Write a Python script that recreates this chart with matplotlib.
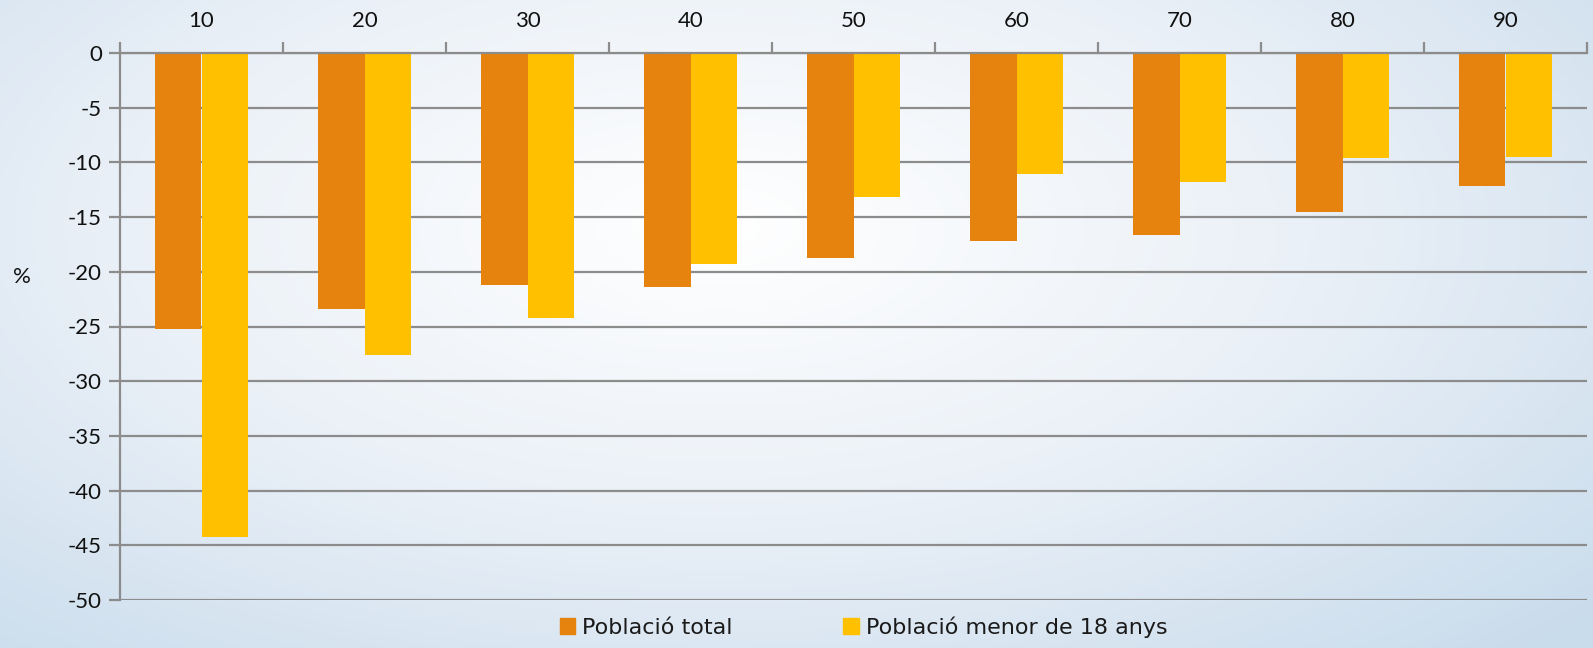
import matplotlib
matplotlib.use("Agg")
import matplotlib.pyplot as plt
import numpy as np
from matplotlib.patches import Patch
from matplotlib.colors import LinearSegmentedColormap

categories = ["10", "20", "30", "40", "50", "60", "70", "80", "90"]
poblacio_total = [-25.2, -23.4, -21.2, -21.4, -18.7, -17.2, -16.6, -14.5, -12.2]
poblacio_menor_18 = [-44.2, -27.6, -24.2, -19.3, -13.2, -11.1, -11.75, -9.6, -9.5]
series_names = ["Població total", "Població menor de 18 anys"]
yticks = [0, -5, -10, -15, -20, -25, -30, -35, -40, -45, -50]

ORANGE = "#E6820E"
YELLOW = "#FFC000"
GRID = "#8c8c8c"

plt.rcParams["font.family"] = ["Lato", "DejaVu Sans"]
plt.rcParams["axes.unicode_minus"] = False

fig = plt.figure(figsize=(15.93, 6.48), dpi=100)

# background gradient (white centre, pale blue edges)
bg = fig.add_axes([0, 0, 1, 1], zorder=-10)
yy, xx = np.mgrid[0:1:200j, 0:1:400j]
dist = np.sqrt(((xx - 0.45) / 0.75) ** 2 + ((yy - 0.35) / 0.9) ** 2)
cmap = LinearSegmentedColormap.from_list("bg", ["#ffffff", "#eaf0f7", "#c9dcec"])
bg.imshow(np.clip(dist, 0, 1), cmap=cmap, aspect="auto", extent=[0, 1, 0, 1],
          origin="upper", vmin=0, vmax=1)
bg.axis("off")

ax = fig.add_axes([120 / 1593, 1 - 600 / 648, (1587 - 120) / 1593, (600 - 53) / 648])
ax.patch.set_alpha(0)

n = len(categories)
x = np.arange(n) + 0.5
w = 0.286
ax.bar(x - w / 2, poblacio_total, width=w, color=ORANGE, zorder=3)
ax.bar(x + w / 2, poblacio_menor_18, width=w, color=YELLOW, zorder=3)

ax.set_xlim(0, n)
ax.set_ylim(-50, 0)
ax.set_yticks(yticks)
ax.set_yticklabels([str(v) for v in yticks])
ax.yaxis.grid(True, color=GRID, linewidth=1.6, zorder=0)

ax.xaxis.tick_top()
ax.set_xticks(np.arange(n + 1))
ax.set_xticklabels([])
ax.set_xticks(x, minor=True)
ax.set_xticklabels(categories, minor=True)
ax.tick_params(axis="x", which="major", length=8, width=1.6, color=GRID, direction="out")
ax.tick_params(axis="x", which="minor", length=0, pad=16, labelsize=16, labelcolor="#111111")
ax.tick_params(axis="y", length=8, width=1.6, color=GRID, labelsize=16,
               labelcolor="#111111", pad=5)

for side in ["right", "bottom"]:
    ax.spines[side].set_visible(False)
for side in ["left", "top"]:
    ax.spines[side].set_color(GRID)
    ax.spines[side].set_linewidth(1.6)
ax.spines["top"].set_zorder(4)

fig.text(22 / 1593, 1 - 277 / 648, "%", fontsize=16, color="#111111",
         ha="center", va="center")

handles = [Patch(color=ORANGE), Patch(color=YELLOW)]
fig.legend(handles, series_names, loc="center", bbox_to_anchor=(0.542, 1 - 627 / 648),
           ncol=2, frameon=False, handlelength=0.7, handleheight=0.7,
           handletextpad=0.3, columnspacing=5.0,
           prop={"family": "DejaVu Sans", "size": 16})
for t in fig.legends[0].get_texts():
    t.set_color("#1a1a1a")

fig.savefig("out.png", dpi=100)
